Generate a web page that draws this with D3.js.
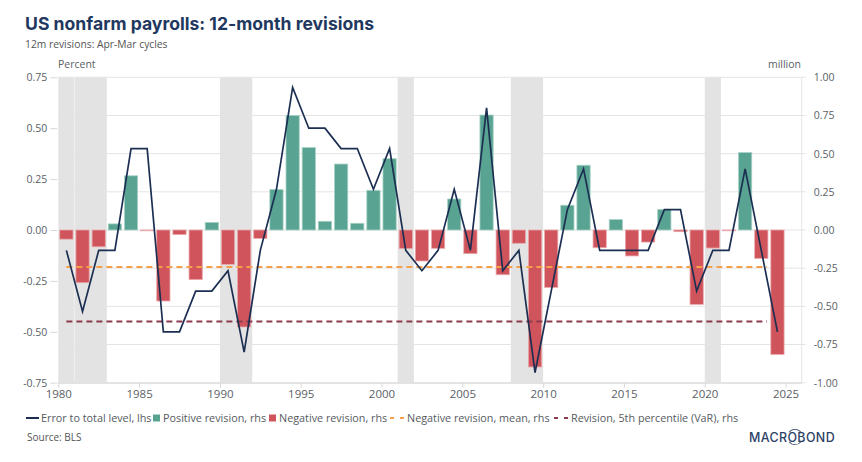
<!DOCTYPE html>
<html>
<head>
<meta charset="utf-8">
<script src="https://cdn.jsdelivr.net/npm/d3@7/dist/d3.min.js"></script>
<style>
  html, body { margin: 0; padding: 0; background: #fff; }
  svg { display: block; font-family: "Open Sans", "DejaVu Sans", sans-serif; }
</style>
</head>
<body>
<svg id="chart" width="862" height="462"></svg>
<script>
// ---------------- data ----------------
const years = d3.range(1980, 2025); // 1980..2024, Apr-Mar cycles
// 12-month revision, million (rhs)
const revisions = [
  -0.06, -0.345, -0.11, 0.04, 0.355, -0.005, -0.465, -0.03, -0.325, 0.05,
  -0.225, -0.635, -0.055, 0.265, 0.75, 0.54, 0.057, 0.432, 0.044, 0.26,
  0.467, -0.122, -0.203, -0.12, 0.203, -0.155, 0.753, -0.293, -0.087, -0.897,
  -0.376, 0.162, 0.424, -0.116, 0.068, -0.17, -0.079, 0.135, -0.011, -0.487,
  -0.118, -0.004, 0.507, -0.186, -0.815
];
// Error to total level, percent (lhs)
const errorPct = [
  -0.1, -0.4, -0.1, -0.1, 0.4, 0.4, -0.5, -0.5, -0.3, -0.3,
  -0.2, -0.6, -0.1, 0.2, 0.7, 0.5, 0.5, 0.4, 0.4, 0.2,
  0.4, -0.1, -0.2, -0.1, 0.2, -0.1, 0.6, -0.2, -0.1, -0.7,
  -0.3, 0.1, 0.3, -0.1, -0.1, -0.1, -0.1, 0.1, 0.1, -0.3,
  -0.1, -0.1, 0.3, -0.1, -0.5
];
const negMean = -0.242;   // million
const var5 = -0.60;       // million
const recessions = [[1980, 1981], [1981, 1983], [1990, 1992], [2001, 2002], [2008, 2010], [2020, 2021]];
const xTicks = [1980, 1985, 1990, 1995, 2000, 2005, 2010, 2015, 2020, 2025];
const leftTicks = [0.75, 0.5, 0.25, 0, -0.25, -0.5, -0.75];
const rightTicks = [1, 0.75, 0.5, 0.25, 0, -0.25, -0.5, -0.75, -1];

const title = "US nonfarm payrolls: 12-month revisions";
const subtitle = "12m revisions: Apr-Mar cycles";
const legendItems = [
  { label: "Error to total level, lhs", type: "line", color: "#1c2f52", x: 26 },
  { label: "Positive revision, rhs", type: "rect", color: "#58a391", x: 153 },
  { label: "Negative revision, rhs", type: "rect", color: "#cf545b", x: 269 },
  { label: "Negative revision, mean, rhs", type: "dash", color: "#f5a048", x: 390 },
  { label: "Revision, 5th percentile (VaR), rhs", type: "dash", color: "#8c3a4e", x: 554 }
];

// ---------------- layout ----------------
const svg = d3.select("#chart");
const L = 58.3, R = 801.7, T = 77.3, B = 382.7;
const x = d3.scaleLinear().domain([1980, 2026]).range([L, R]);
const yL = d3.scaleLinear().domain([-0.75, 0.75]).range([B, T]);
const yR = d3.scaleLinear().domain([-1, 1]).range([B, T]);
const fmt = d => d.toFixed(2);
const axisColor = "#5a5f66";

// title
svg.append("text").attr("x", 25).attr("y", 30)
  .attr("font-size", 17.6).attr("font-weight", 700).attr("fill", "#1f3860")
  .attr("font-family", "Inter, 'Open Sans', sans-serif")
  .text(title);
svg.append("text").attr("x", 25).attr("y", 48)
  .attr("font-size", 10.3).attr("fill", "#555").text(subtitle);
svg.append("text").attr("x", 58).attr("y", 68)
  .attr("font-size", 10.5).attr("fill", axisColor).text("Percent");
svg.append("text").attr("x", 801).attr("y", 68).attr("text-anchor", "end")
  .attr("font-size", 10.5).attr("fill", axisColor).text("million");

// recession bands
const g = svg.append("g");
g.selectAll("rect.rec").data(recessions).join("rect")
  .attr("class", "rec")
  .attr("x", d => x(d[0])).attr("width", d => x(d[1]) - x(d[0]))
  .attr("y", T).attr("height", B - T)
  .attr("fill", "#e2e3e2");
// faint separator between adjacent bands
g.selectAll("line.sep").data(recessions.filter((d, i) => i > 0 && recessions[i - 1][1] === d[0])).join("line")
  .attr("x1", d => x(d[0])).attr("x2", d => x(d[0])).attr("y1", T).attr("y2", B)
  .attr("stroke", "#efefef").attr("stroke-width", 1);

// gridlines (rhs ticks)
g.selectAll("line.grid").data(rightTicks).join("line")
  .attr("x1", L).attr("x2", R + 4)
  .attr("y1", d => yR(d)).attr("y2", d => yR(d))
  .attr("stroke", "#e4e4e4").attr("stroke-width", 1);
// right border
g.append("line").attr("x1", R).attr("x2", R).attr("y1", T).attr("y2", B + 0.5)
  .attr("stroke", "#e4e4e4");

// left axis
const leftAxis = d3.axisLeft(yL).tickValues(leftTicks).tickFormat(fmt).tickSize(7).tickPadding(3);
const gl = svg.append("g").attr("transform", `translate(${L - 1},0)`).call(leftAxis);
gl.select(".domain").remove();
gl.selectAll(".tick line").attr("stroke", "#d8d8d8");
gl.selectAll(".tick text").attr("fill", axisColor).attr("font-size", 10.5)
  .attr("font-family", "'Open Sans', sans-serif");

// right axis
const rightAxis = d3.axisRight(yR).tickValues(rightTicks).tickFormat(fmt).tickSize(0).tickPadding(12);
const gr = svg.append("g").attr("transform", `translate(${R},0)`).call(rightAxis);
gr.select(".domain").remove();
gr.selectAll(".tick text").attr("fill", axisColor).attr("font-size", 10.5)
  .attr("font-family", "'Open Sans', sans-serif");

// x axis
const xAxis = d3.axisBottom(x).tickValues(xTicks).tickFormat(d3.format("d")).tickSize(5).tickPadding(2);
const gx = svg.append("g").attr("transform", `translate(0,${B})`).call(xAxis);
gx.select(".domain").attr("stroke", "#d8d8d8").attr("d", `M${L},0.5H${R}`);
gx.selectAll(".tick line").attr("stroke", "#d8d8d8");
gx.selectAll(".tick text").attr("fill", axisColor).attr("font-size", 11.5)
  .attr("font-family", "'Open Sans', sans-serif");

// bars
const bars = years.map((yr, i) => ({ yr, v: revisions[i] }));
svg.append("g").selectAll("rect").data(bars).join("rect")
  .attr("x", d => x(d.yr + 0.09)).attr("width", d => x(d.yr + 0.91) - x(d.yr + 0.09))
  .attr("y", d => yR(Math.max(0, d.v)))
  .attr("height", d => Math.max(0.8, Math.abs(yR(d.v) - yR(0))))
  .attr("fill", d => d.v >= 0 ? "#58a391" : "#cf545b")
  .attr("stroke", d => d.v >= 0 ? "#a9d2c7" : "#eaa9ad")
  .attr("stroke-width", 0.8);

// dashed reference lines
const refs = [{ v: negMean, color: "#f5a048" }, { v: var5, color: "#8c3a4e" }];
svg.append("g").selectAll("line").data(refs).join("line")
  .attr("x1", x(1980.5)).attr("x2", x(2023.85))
  .attr("y1", d => yR(d.v)).attr("y2", d => yR(d.v))
  .attr("stroke", d => d.color).attr("stroke-width", 2)
  .attr("stroke-dasharray", "6,4");

// line
const pts = years.map((yr, i) => ({ yr, v: errorPct[i] }));
svg.append("path").datum(pts)
  .attr("fill", "none").attr("stroke", "#1c2f52").attr("stroke-width", 1.7)
  .attr("stroke-linejoin", "miter")
  .attr("d", d3.line().x(d => x(d.yr + 0.5)).y(d => yL(d.v)));

// legend
const lg = svg.append("g").attr("font-size", 10.8).attr("fill", "#555a60");
const ly = 418;
legendItems.forEach(it => {
  const gi = lg.append("g");
  let tx;
  if (it.type === "line") {
    gi.append("line").attr("x1", it.x).attr("x2", it.x + 13).attr("y1", ly).attr("y2", ly)
      .attr("stroke", it.color).attr("stroke-width", 2);
    tx = it.x + 15;
  } else if (it.type === "rect") {
    gi.append("rect").attr("x", it.x).attr("y", ly - 3.5).attr("width", 7).attr("height", 7)
      .attr("fill", it.color);
    tx = it.x + 10;
  } else {
    gi.append("line").attr("x1", it.x).attr("x2", it.x + 14).attr("y1", ly).attr("y2", ly)
      .attr("stroke", it.color).attr("stroke-width", 2).attr("stroke-dasharray", "4,6");
    tx = it.x + 17;
  }
  gi.append("text").attr("x", tx).attr("y", ly + 3.8).text(it.label);
});

// source
svg.append("text").attr("x", 27).attr("y", 441).attr("font-size", 10).attr("fill", "#555")
  .text("Source: BLS");

// logo
const logo = svg.append("g");
logo.append("text").attr("x", 749).attr("y", 441.5).attr("font-size", 12.5)
  .attr("font-weight", 500).attr("fill", "#2b4266").attr("letter-spacing", 0.4)
  .attr("font-family", "Inter, 'Open Sans', sans-serif")
  .attr("textLength", 86).attr("lengthAdjust", "spacingAndGlyphs")
  .text("MACROBOND");
const ox = 795, oy = 437;
logo.append("path").attr("d", d3.arc()({ innerRadius: 7.2, outerRadius: 8, startAngle: -0.9, endAngle: 0.9 }))
  .attr("transform", `translate(${ox},${oy})`).attr("fill", "#2b4266");
logo.append("path").attr("d", d3.arc()({ innerRadius: 7.2, outerRadius: 8, startAngle: Math.PI - 0.9, endAngle: Math.PI + 0.9 }))
  .attr("transform", `translate(${ox},${oy})`).attr("fill", "#2b4266");
</script>
</body>
</html>
